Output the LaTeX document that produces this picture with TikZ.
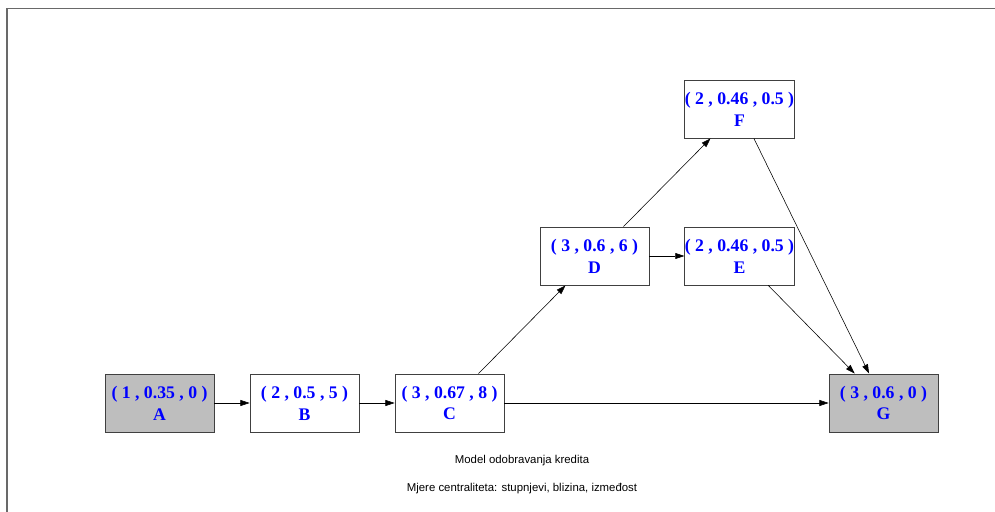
\documentclass[tikz,border=0pt]{standalone}
\usepackage{fontspec}
\setmainfont{Liberation Serif}
\newfontfamily\capfont{Liberation Sans}
\usetikzlibrary{positioning,arrows.meta}
\definecolor{nodegray}{RGB}{190,190,190}
\definecolor{framegray}{RGB}{105,105,105}
\definecolor{labblue}{RGB}{0,0,255}
\tikzset{
  box/.style  = {rectangle, draw=black!75, line width=0.6pt,
                 minimum width=2.725cm, minimum height=1.45cm,
                 inner sep=0pt, align=center, text=labblue,
                 font=\fontsize{12.6}{15.5}\selectfont\bfseries, fill=white},
  endbox/.style = {box, fill=nodegray},
  arr/.style  = {-{Triangle[length=2.3mm,width=1.5mm]}, line width=0.4pt},
  captxt/.style = {font=\capfont\fontsize{8.1}{9}\selectfont, inner sep=0pt}
}

\begin{document}
\begin{tikzpicture}[x=0.025cm, y=-0.025cm]
    \useasboundingbox (0,0) rectangle (995,512);
    % frame
    \draw[framegray, line width=1.4pt] (7,512) -- (7,8.5) -- (995,8.5);
    % nodes (centre, pixel coordinates)
    \node[endbox] (A) at (159.5,403) {( 1 , 0.35 , 0 )\\A};
    \node[box]    (B) at (304.5,403) {( 2 , 0.5 , 5 )\\B};
    \node[box]    (C) at (449.5,403) {( 3 , 0.67 , 8 )\\C};
    \node[box]    (D) at (594.5,256) {( 3 , 0.6 , 6 )\\D};
    \node[box]    (E) at (739.5,256) {( 2 , 0.46 , 0.5 )\\E};
    \node[box]    (F) at (739.5,109) {( 2 , 0.46 , 0.5 )\\F};
    \node[endbox] (G) at (883.5,403) {( 3 , 0.6 , 0 )\\G};
    % edges
    \draw[arr] (A) -- (B);
    \draw[arr] (B) -- (C);
    \draw[arr] (C) -- (D);
    \draw[arr] (C) -- (G);
    \draw[arr] (D) -- (E);
    \draw[arr] (D) -- (F);
    \draw[arr] (E) -- (G);
    \draw[arr] (F) -- (G);
    % caption
    \node[captxt] (title) at (522,461) {Model odobravanja kredita};
    \node[captxt] (sub)   at (522,489) {Mjere centraliteta: stupnjevi, blizina, izmeđost};
\end{tikzpicture}
\end{document}
